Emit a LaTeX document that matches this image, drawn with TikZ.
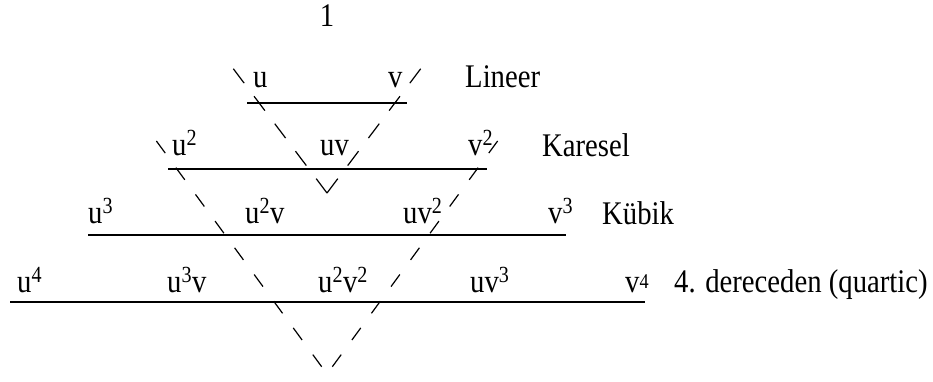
\documentclass[tikz,border=0pt]{standalone}
\usepackage{fontspec}
\setmainfont{Liberation Serif}[FakeStretch=0.87]
\begin{document}
\begin{tikzpicture}[x=1pt,y=-1pt,
  lbl/.style={inner sep=0pt,anchor=base west,font=\fontsize{33}{40}\selectfont},
  level/.style={line width=1.7pt},
  dashA/.style={line width=1.2pt,dash pattern=on 18pt off 16.4pt},
  dashB/.style={line width=1.2pt,dash pattern=on 15pt off 18.1pt,dash phase=25.7pt}]
\useasboundingbox (0,0) rectangle (933,381);
% texts
\node[lbl,anchor=base] (one) at (327,26) {1};
\node[lbl] (u1) at (253,87) {u};
\node[lbl] (v1) at (388,87) {v};
\node[lbl] (lin) at (465,87) {Lineer};
\node[lbl] (u2) at (172,155) {u\textsuperscript{2}};
\node[lbl] (uv) at (320,155) {uv};
\node[lbl] (v2) at (468,155) {v\textsuperscript{2}};
\node[lbl] (kar) at (542,156) {Karesel};
\node[lbl] (u3) at (88,223) {u\textsuperscript{3}};
\node[lbl] (u2v) at (245,223) {u\textsuperscript{2}v};
\node[lbl] (uv2) at (403,223) {uv\textsuperscript{2}};
\node[lbl] (v3) at (548,223) {v\textsuperscript{3}};
\node[lbl] (kub) at (602,224) {Kübik};
\node[lbl] (u4) at (17,292) {u\textsuperscript{4}};
\node[lbl] (u3v) at (167,292) {u\textsuperscript{3}v};
\node[lbl] (u2v2) at (318,292) {u\textsuperscript{2}v\textsuperscript{2}};
\node[lbl] (uv3) at (470,292) {uv\textsuperscript{3}};
\node[lbl] (v4) at (625,292) {v{\fontsize{21}{21}\selectfont\raisebox{4pt}{4}}};
\node[lbl] (quar) at (674,292) {4. dereceden (quartic)};
% level lines
\coordinate (a1) at (247,103); \coordinate (b1) at (407,103);
\coordinate (a2) at (168,169); \coordinate (b2) at (487,169);
\coordinate (a3) at (88,235);  \coordinate (b3) at (566,235);
\coordinate (a4) at (10,302);  \coordinate (b4) at (645,302);
\draw[level] (a1) -- (b1);
\draw[level] (a2) -- (b2);
\draw[level] (a3) -- (b3);
\draw[level] (a4) -- (b4);
% dashed V shapes
\coordinate (t1) at (327,193);
\coordinate (p1) at (232,67); \coordinate (q1) at (422,67);
\draw[dashA] (t1) -- (p1);
\draw[dashA] (t1) -- (q1);
\coordinate (t2) at (327,374);
\coordinate (p2) at (152,135); \coordinate (q2) at (502,135);
\draw[dashB] (p2) -- (t2);
\draw[dashB] (q2) -- (t2);
\end{tikzpicture}
\end{document}
